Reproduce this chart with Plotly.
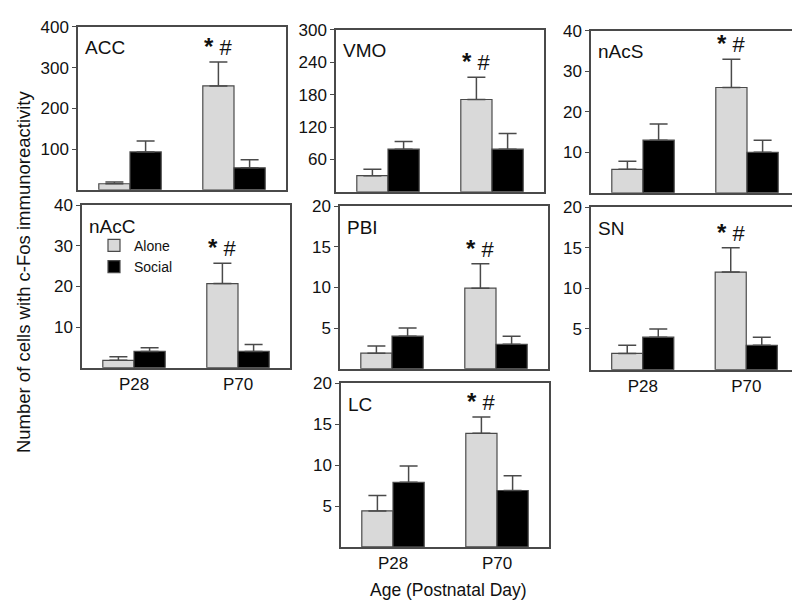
import plotly.graph_objects as go

# ---- data ----
regions = ["ACC", "VMO", "nAcS", "nAcC", "PBI", "SN", "LC"]
ages = ["P28", "P70"]

alone_mean = [[15, 255], [30, 171], [5.8, 26], [1.8, 20.7], [1.9, 9.9], [2, 12], [4.4, 13.9]]
alone_sem = [[4, 59], [12, 41], [2, 7], [0.9, 5], [0.9, 3], [1, 3], [1.9, 2]]
social_mean = [[93, 54], [79, 79], [13, 10], [4, 4], [4, 3], [4, 3], [7.9, 6.9]]
social_sem = [[27, 20], [14, 29], [4, 3], [0.9, 1.7], [1, 1], [1, 1], [2, 1.8]]

y_max = [400, 300, 40, 40, 20, 20, 20]
y_ticks = [
    [100, 200, 300, 400],
    [60, 120, 180, 240, 300],
    [10, 20, 30, 40],
    [10, 20, 30, 40],
    [5, 10, 15, 20],
    [5, 10, 15, 20],
    [5, 10, 15, 20],
]
show_x_labels = [False, False, False, True, False, True, True]
sig_label = "<span style='font-size:24px'><b>*</b></span> #"

# ---- layout (pixel boxes of each panel: x0, x1, ytop, ybottom) ----
W, H = 800, 600
boxes = [
    (70, 278, 10, 175.5),
    (328, 536, 13, 177.5),
    (583, 791, 14, 178.5),
    (74, 282, 191, 356),
    (332, 540, 192, 357),
    (583, 790, 193, 358),
    (333, 541, 372, 538),
]

FONT = "Liberation Sans, Arial, sans-serif"
AX = "#4a4a4a"
ALONE = "#d9d9d9"
SOCIAL = "#000000"

fig = go.Figure()
layout_axes = {}
annotations = []

for i, name in enumerate(regions):
    n = "" if i == 0 else str(i + 1)
    xa, ya = "x" + n, "y" + n
    x0, x1, yt, yb = boxes[i]
    fig.add_trace(go.Bar(
        x=ages, y=alone_mean[i], name="Alone", xaxis=xa, yaxis=ya,
        marker=dict(color=ALONE, line=dict(color=AX, width=1.2)),
        error_y=dict(type="data", array=alone_sem[i], arrayminus=[0] * len(ages),
                     symmetric=False, color=AX, thickness=1.5, width=9),
        showlegend=(i == 3), legendgroup="Alone",
    ))
    fig.add_trace(go.Bar(
        x=ages, y=social_mean[i], name="Social", xaxis=xa, yaxis=ya,
        marker=dict(color=SOCIAL, line=dict(color=AX, width=1.2)),
        error_y=dict(type="data", array=social_sem[i], arrayminus=[0] * len(ages),
                     symmetric=False, color=AX, thickness=1.5, width=9),
        showlegend=(i == 3), legendgroup="Social",
    ))
    layout_axes["xaxis" + n] = dict(
        domain=[x0 / W, x1 / W], anchor=ya, type="category",
        range=[-0.5, 1.5], showline=True, linecolor=AX, linewidth=1.5, mirror=True,
        showgrid=False, zeroline=False, fixedrange=True,
        ticks="",
        showticklabels=show_x_labels[i],
        tickfont=dict(family=FONT, size=17, color="#111"),
    )
    layout_axes["yaxis" + n] = dict(
        domain=[1 - yb / H, 1 - yt / H], anchor=xa,
        range=[0, y_max[i]], tickmode="array", tickvals=y_ticks[i],
        showline=True, linecolor=AX, linewidth=1.5, mirror=True,
        showgrid=False, zeroline=False,
        ticks="outside", ticklen=4, tickcolor=AX, tickwidth=1,
        tickfont=dict(family=FONT, size=17, color="#111"),
    )
    # panel title
    annotations.append(dict(
        text=name, xref=xa + " domain", yref=ya + " domain", x=0, y=1,
        xanchor="left", yanchor="middle", xshift=5, yshift=-21, showarrow=False,
        font=dict(family=FONT, size=19, color="#111"),
    ))
    # significance marker above P70 "Alone" bar
    annotations.append(dict(
        text=sig_label, xref=xa, yref=ya, x=1 - 0.15,
        y=alone_mean[i][1] + alone_sem[i][1],
        xanchor="center", yanchor="bottom", yshift=0, showarrow=False,
        font=dict(family=FONT, size=22, color="#111"),
    ))

annotations.append(dict(
    text="Number of cells with c-Fos immunoreactivity", xref="paper", yref="paper",
    x=15 / W, y=1 - 259 / H, textangle=-90, showarrow=False,
    xanchor="center", yanchor="middle",
    font=dict(family=FONT, size=18.5, color="#111"),
))
annotations.append(dict(
    text="Age (Postnatal Day)", xref="paper", yref="paper",
    x=440 / W, y=1 - 582 / H, showarrow=False,
    xanchor="center", yanchor="middle",
    font=dict(family=FONT, size=17.5, color="#111"),
))

fig.update_layout(
    width=W, height=H, margin=dict(l=0, r=0, t=0, b=0),
    paper_bgcolor="white", plot_bgcolor="white",
    barmode="group", bargap=0.4, bargroupgap=0,
    showlegend=True,
    legend=dict(x=86 / W, y=1 - 216 / H, xanchor="left", yanchor="top",
                bgcolor="rgba(0,0,0,0)", font=dict(family=FONT, size=14, color="#111"),
                tracegroupgap=0, itemwidth=30),
    annotations=annotations,
    **layout_axes,
)

fig.write_html("out.html")
